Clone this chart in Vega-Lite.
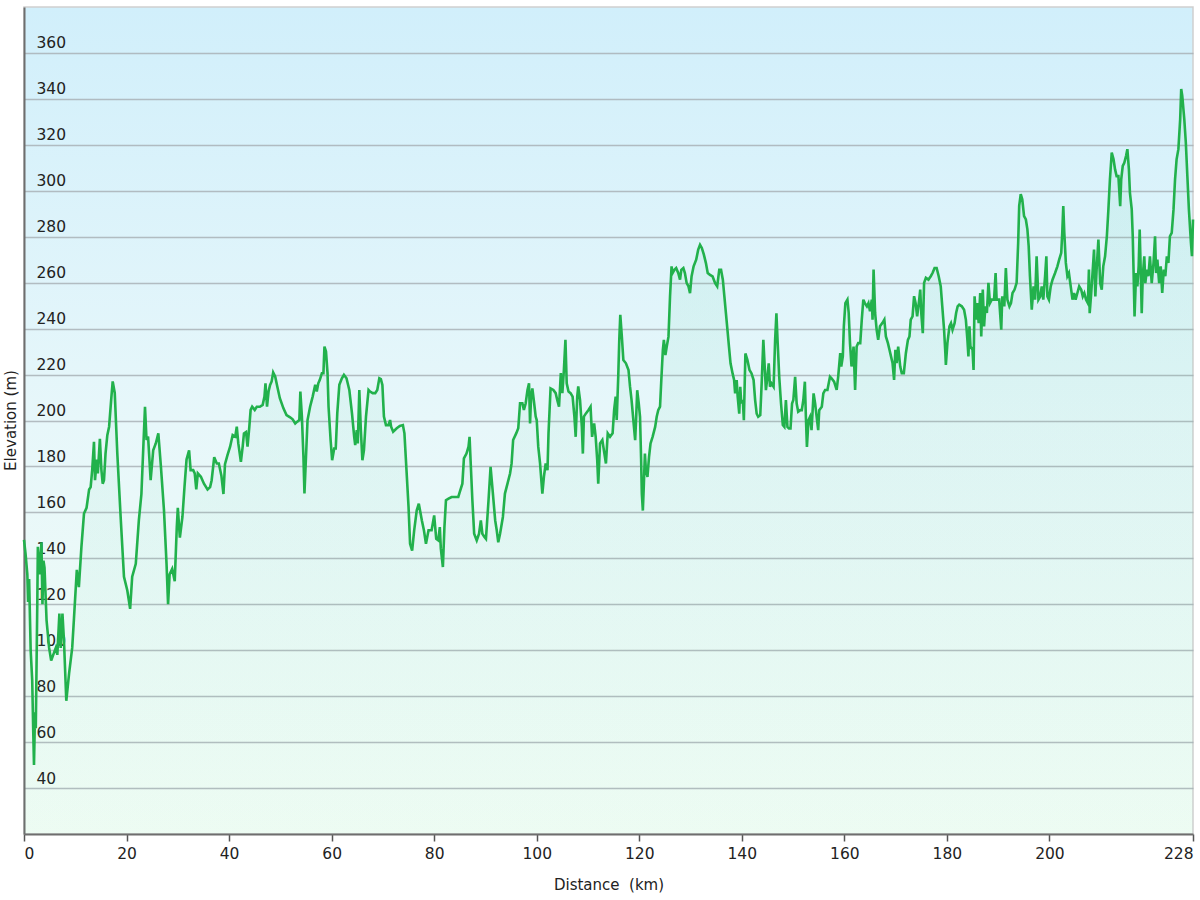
{
"$schema": "https://vega.github.io/schema/vega-lite/v6.json",
"width": 1169,
"height": 827,
"autosize": {"type": "none"},
"padding": {"left": 24, "top": 7, "right": 7, "bottom": 66},
"background": "white",
"config": {
  "view": {"fill": {"gradient": "linear", "x1": 0, "y1": 0, "x2": 0, "y2": 1, "stops": [{"offset": 0, "color": "#d1effb"}, {"offset": 0.5, "color": "#e7f7fa"}, {"offset": 1, "color": "#f1fdf5"}]}, "stroke": "#cfcfcf", "strokeWidth": 1.5},
  "axis": {"labelFont": "DejaVu Sans", "titleFont": "DejaVu Sans", "labelColor": "#222222", "titleColor": "#222222", "labelFontSize": 15.5, "titleFontSize": 15, "titleFontWeight": "normal"}
},
"data": {"values": [
{"km":0,"elev":148},{"km":0.3,"elev":142},{"km":0.65,"elev":133},{"km":0.8,"elev":121},{"km":1.0,"elev":131},{"km":1.3,"elev":100},{"km":1.6,"elev":87},{"km":1.8,"elev":65},{"km":1.95,"elev":50},{"km":2.15,"elev":73},{"km":2.3,"elev":66},{"km":2.6,"elev":122},{"km":2.7,"elev":145},{"km":3.05,"elev":133},{"km":3.4,"elev":147},{"km":3.6,"elev":120},{"km":3.8,"elev":139},{"km":4.0,"elev":136},{"km":4.4,"elev":113},{"km":4.9,"elev":101},{"km":5.3,"elev":95.5},{"km":5.7,"elev":98},{"km":6.2,"elev":101},{"km":6.5,"elev":98},{"km":6.9,"elev":116},{"km":7.15,"elev":101},{"km":7.5,"elev":116},{"km":7.8,"elev":104},{"km":8.25,"elev":78},{"km":8.8,"elev":90},{"km":9.4,"elev":101},{"km":9.75,"elev":114},{"km":10.3,"elev":135},{"km":10.7,"elev":127.5},{"km":11.2,"elev":145},{"km":11.7,"elev":159.5},{"km":12.2,"elev":162},{"km":12.7,"elev":170},{"km":13.0,"elev":171},{"km":13.3,"elev":178.4},{"km":13.65,"elev":190.7},{"km":13.85,"elev":174},{"km":14.2,"elev":183},{"km":14.4,"elev":177},{"km":14.8,"elev":192},{"km":15.1,"elev":178.4},{"km":15.35,"elev":172.5},{"km":15.6,"elev":174},{"km":15.9,"elev":185.6},{"km":16.25,"elev":193.6},{"km":16.6,"elev":197.3},{"km":17.0,"elev":209},{"km":17.3,"elev":217},{"km":17.7,"elev":212},{"km":18.2,"elev":185.6},{"km":18.85,"elev":158},{"km":19.5,"elev":132},{"km":20.15,"elev":126},{"km":20.7,"elev":118},{"km":21.1,"elev":132},{"km":21.8,"elev":137.6},{"km":22.4,"elev":156.5},{"km":22.9,"elev":168},{"km":23.3,"elev":190},{"km":23.6,"elev":206},{"km":23.9,"elev":191.5},{"km":24.2,"elev":193},{"km":24.7,"elev":174},{"km":25.2,"elev":187},{"km":25.7,"elev":190},{"km":26.2,"elev":194.4},{"km":26.7,"elev":180},{"km":27.3,"elev":161},{"km":27.8,"elev":137.6},{"km":28.1,"elev":120},{"km":28.4,"elev":133},{"km":28.9,"elev":135.4},{"km":29.4,"elev":130},{"km":29.8,"elev":153.6},{"km":30.0,"elev":162},{"km":30.4,"elev":149},{"km":30.9,"elev":158},{"km":31.3,"elev":171},{"km":31.7,"elev":183},{"km":32.2,"elev":187},{"km":32.5,"elev":178.4},{"km":33.0,"elev":178.4},{"km":33.3,"elev":177},{"km":33.6,"elev":170},{"km":33.9,"elev":177},{"km":34.5,"elev":175.5},{"km":35.1,"elev":172.5},{"km":35.8,"elev":170},{"km":36.3,"elev":171},{"km":36.6,"elev":174},{"km":37.1,"elev":184},{"km":37.6,"elev":181.3},{"km":38.0,"elev":181.3},{"km":38.5,"elev":176},{"km":38.9,"elev":168},{"km":39.2,"elev":181},{"km":39.7,"elev":185},{"km":40.2,"elev":188.6},{"km":40.7,"elev":193.7},{"km":41.2,"elev":193},{"km":41.5,"elev":197.3},{"km":41.8,"elev":190},{"km":42.3,"elev":182},{"km":42.65,"elev":188.6},{"km":42.9,"elev":194.4},{"km":43.3,"elev":195},{"km":43.6,"elev":188.6},{"km":43.95,"elev":197.3},{"km":44.2,"elev":204.6},{"km":44.5,"elev":206},{"km":45.0,"elev":204.6},{"km":45.4,"elev":206},{"km":46.0,"elev":206},{"km":46.55,"elev":206.8},{"km":46.9,"elev":210.4},{"km":47.1,"elev":216.2},{"km":47.4,"elev":206},{"km":47.7,"elev":212.6},{"km":48.0,"elev":215.5},{"km":48.3,"elev":217},{"km":48.6,"elev":220.9},{"km":49.0,"elev":219.1},{"km":49.4,"elev":214.8},{"km":49.9,"elev":209.7},{"km":50.6,"elev":205.3},{"km":51.2,"elev":202.4},{"km":51.9,"elev":201.4},{"km":52.4,"elev":200.5},{"km":52.9,"elev":198.7},{"km":53.3,"elev":199.5},{"km":53.7,"elev":200.2},{"km":53.9,"elev":212.6},{"km":54.2,"elev":201.7},{"km":54.5,"elev":184.2},{"km":54.7,"elev":168.2},{"km":55.0,"elev":184.2},{"km":55.3,"elev":200.2},{"km":55.8,"elev":206},{"km":56.3,"elev":210.4},{"km":56.8,"elev":215.5},{"km":57.1,"elev":212.6},{"km":57.4,"elev":216.2},{"km":57.7,"elev":217.7},{"km":58.1,"elev":220.6},{"km":58.4,"elev":220.6},{"km":58.6,"elev":232.2},{"km":58.9,"elev":230},{"km":59.2,"elev":220.6},{"km":59.4,"elev":206},{"km":59.8,"elev":191.5},{"km":60.1,"elev":182.7},{"km":60.5,"elev":187.8},{"km":60.8,"elev":187.8},{"km":61.1,"elev":203.1},{"km":61.5,"elev":215.5},{"km":62.0,"elev":218.4},{"km":62.4,"elev":219.9},{"km":62.9,"elev":218.4},{"km":63.45,"elev":213.3},{"km":63.97,"elev":203.1},{"km":64.4,"elev":192.9},{"km":64.6,"elev":189.3},{"km":64.9,"elev":195.8},{"km":65.1,"elev":190},{"km":65.4,"elev":213.3},{"km":65.7,"elev":195.8},{"km":66.0,"elev":182.7},{"km":66.3,"elev":187},{"km":66.7,"elev":201.7},{"km":67.2,"elev":213.3},{"km":67.5,"elev":212.6},{"km":68.0,"elev":211.9},{"km":68.5,"elev":211.9},{"km":68.9,"elev":213.3},{"km":69.3,"elev":218.4},{"km":69.6,"elev":218},{"km":69.9,"elev":215.5},{"km":70.2,"elev":201.7},{"km":70.6,"elev":198},{"km":71.1,"elev":198},{"km":71.4,"elev":200.2},{"km":71.6,"elev":197.3},{"km":72.0,"elev":195.1},{"km":72.7,"elev":196.6},{"km":73.3,"elev":197.6},{"km":73.9,"elev":198},{"km":74.2,"elev":194.4},{"km":74.6,"elev":178.4},{"km":75.0,"elev":162.4},{"km":75.3,"elev":146.3},{"km":75.7,"elev":143.4},{"km":76.1,"elev":152.2},{"km":76.6,"elev":160.9},{"km":77.0,"elev":163.8},{"km":77.6,"elev":156.5},{"km":78.0,"elev":152.2},{"km":78.4,"elev":146.3},{"km":78.9,"elev":152.2},{"km":79.5,"elev":152.2},{"km":80.0,"elev":158.7},{"km":80.4,"elev":148.5},{"km":80.8,"elev":147.8},{"km":81.1,"elev":153.6},{"km":81.3,"elev":144.2},{"km":81.7,"elev":136.2},{"km":82.0,"elev":153.6},{"km":82.3,"elev":165.3},{"km":82.8,"elev":166},{"km":83.4,"elev":166.7},{"km":84.1,"elev":166.7},{"km":84.7,"elev":166.7},{"km":85.0,"elev":168.9},{"km":85.5,"elev":172.5},{"km":85.8,"elev":183.5},{"km":86.3,"elev":185.6},{"km":86.7,"elev":188.6},{"km":86.9,"elev":192.9},{"km":87.1,"elev":182.7},{"km":87.45,"elev":165.3},{"km":87.8,"elev":150.7},{"km":88.3,"elev":147.8},{"km":88.75,"elev":150.7},{"km":89.1,"elev":156.5},{"km":89.4,"elev":150.7},{"km":89.8,"elev":149.3},{"km":90.1,"elev":148.5},{"km":90.6,"elev":165.3},{"km":91.0,"elev":179.8},{"km":91.4,"elev":169.6},{"km":91.9,"elev":156.5},{"km":92.2,"elev":152.2},{"km":92.5,"elev":147},{"km":92.85,"elev":150.7},{"km":93.4,"elev":158},{"km":93.8,"elev":168.2},{"km":94.3,"elev":172.5},{"km":94.8,"elev":176.9},{"km":95.1,"elev":181.3},{"km":95.4,"elev":191.5},{"km":96.0,"elev":194.4},{"km":96.4,"elev":196.6},{"km":96.75,"elev":207.5},{"km":97.2,"elev":207.5},{"km":97.5,"elev":204.6},{"km":97.85,"elev":207.5},{"km":98.2,"elev":213.3},{"km":98.5,"elev":216.2},{"km":98.7,"elev":198.7},{"km":98.9,"elev":210.4},{"km":99.15,"elev":214},{"km":99.5,"elev":207.5},{"km":99.8,"elev":201.7},{"km":100.0,"elev":200.2},{"km":100.3,"elev":188.6},{"km":100.65,"elev":181.3},{"km":101.1,"elev":168.2},{"km":101.4,"elev":175.5},{"km":101.75,"elev":181.3},{"km":102.1,"elev":178.4},{"km":102.3,"elev":194.4},{"km":102.7,"elev":214},{"km":103.25,"elev":213.3},{"km":103.7,"elev":211.9},{"km":104.0,"elev":208.9},{"km":104.35,"elev":206},{"km":104.7,"elev":220.6},{"km":105.0,"elev":211.9},{"km":105.3,"elev":222},{"km":105.6,"elev":235.1},{"km":105.85,"elev":216.2},{"km":106.2,"elev":212.6},{"km":106.6,"elev":211.9},{"km":107.0,"elev":210.4},{"km":107.35,"elev":201.7},{"km":107.6,"elev":192.9},{"km":107.9,"elev":210.4},{"km":108.1,"elev":214.8},{"km":108.45,"elev":208.9},{"km":108.8,"elev":197.3},{"km":109.0,"elev":185.6},{"km":109.2,"elev":201.7},{"km":109.6,"elev":203.1},{"km":110.1,"elev":204.6},{"km":110.5,"elev":206},{"km":110.8,"elev":192.9},{"km":111.2,"elev":198.7},{"km":111.5,"elev":192.9},{"km":111.8,"elev":182.7},{"km":112.0,"elev":172.5},{"km":112.35,"elev":190},{"km":112.8,"elev":191.5},{"km":113.2,"elev":185.6},{"km":113.5,"elev":181.3},{"km":113.85,"elev":194.4},{"km":114.3,"elev":192.9},{"km":114.8,"elev":194.4},{"km":115.1,"elev":204.6},{"km":115.4,"elev":210.4},{"km":115.6,"elev":200.2},{"km":115.9,"elev":219.1},{"km":116.1,"elev":235.1},{"km":116.3,"elev":246},{"km":116.6,"elev":236.6},{"km":116.9,"elev":226.3},{"km":117.4,"elev":224.9},{"km":117.9,"elev":222},{"km":118.2,"elev":214.7},{"km":118.5,"elev":208.9},{"km":118.85,"elev":200.1},{"km":119.2,"elev":191.4},{"km":119.4,"elev":201.6},{"km":119.6,"elev":213.2},{"km":119.9,"elev":207.4},{"km":120.15,"elev":201.6},{"km":120.35,"elev":184.1},{"km":120.5,"elev":168.1},{"km":120.7,"elev":160.8},{"km":120.9,"elev":172.5},{"km":121.1,"elev":185.6},{"km":121.3,"elev":178.3},{"km":121.6,"elev":175.4},{"km":121.9,"elev":184.1},{"km":122.2,"elev":190},{"km":122.6,"elev":192.9},{"km":123.1,"elev":197.2},{"km":123.4,"elev":201.6},{"km":123.7,"elev":204.5},{"km":124.05,"elev":206},{"km":124.3,"elev":217.6},{"km":124.6,"elev":230.7},{"km":124.8,"elev":235.1},{"km":125.1,"elev":228.5},{"km":125.35,"elev":232.1},{"km":125.7,"elev":236.5},{"km":126.0,"elev":254},{"km":126.3,"elev":267.1},{"km":126.5,"elev":264.2},{"km":126.85,"elev":265.6},{"km":127.2,"elev":266.4},{"km":127.6,"elev":264.2},{"km":127.95,"elev":261.3},{"km":128.2,"elev":265.6},{"km":128.6,"elev":266.4},{"km":128.9,"elev":264.2},{"km":129.25,"elev":259.8},{"km":129.6,"elev":258.4},{"km":129.9,"elev":255.4},{"km":130.2,"elev":262.7},{"km":130.6,"elev":267.1},{"km":131.1,"elev":270},{"km":131.5,"elev":274.4},{"km":131.85,"elev":276.5},{"km":132.2,"elev":275.1},{"km":132.6,"elev":272.2},{"km":133.0,"elev":268.5},{"km":133.35,"elev":264.2},{"km":133.8,"elev":263.4},{"km":134.3,"elev":262.7},{"km":134.8,"elev":259.8},{"km":135.2,"elev":258.4},{"km":135.6,"elev":265.6},{"km":135.95,"elev":265.6},{"km":136.3,"elev":261.3},{"km":136.6,"elev":254},{"km":136.9,"elev":246.7},{"km":137.2,"elev":239.4},{"km":137.5,"elev":232.1},{"km":137.8,"elev":224.9},{"km":138.2,"elev":220.5},{"km":138.5,"elev":217.6},{"km":138.7,"elev":211.8},{"km":139.0,"elev":217.6},{"km":139.2,"elev":210.3},{"km":139.5,"elev":203},{"km":139.7,"elev":214.7},{"km":139.9,"elev":207.4},{"km":140.2,"elev":208.9},{"km":140.4,"elev":200.1},{"km":140.7,"elev":229.2},{"km":141.1,"elev":226.3},{"km":141.5,"elev":222},{"km":141.9,"elev":220.5},{"km":142.3,"elev":217.6},{"km":142.6,"elev":208.9},{"km":142.9,"elev":203},{"km":143.2,"elev":201.6},{"km":143.6,"elev":202.3},{"km":143.9,"elev":217.6},{"km":144.2,"elev":235.1},{"km":144.5,"elev":222},{"km":144.7,"elev":213.2},{"km":145.0,"elev":219},{"km":145.25,"elev":224.9},{"km":145.5,"elev":214.7},{"km":145.8,"elev":216.1},{"km":146.2,"elev":214.7},{"km":146.5,"elev":235.1},{"km":146.75,"elev":246.7},{"km":147.0,"elev":233.6},{"km":147.3,"elev":219},{"km":147.65,"elev":207.4},{"km":148.0,"elev":198},{"km":148.3,"elev":197.2},{"km":148.6,"elev":208.9},{"km":148.9,"elev":197.2},{"km":149.2,"elev":196.5},{"km":149.5,"elev":196.5},{"km":149.8,"elev":207.4},{"km":150.05,"elev":208.9},{"km":150.4,"elev":219},{"km":150.7,"elev":207.4},{"km":151.0,"elev":203.8},{"km":151.4,"elev":204.5},{"km":151.7,"elev":204.5},{"km":152.0,"elev":208.9},{"km":152.3,"elev":216.9},{"km":152.5,"elev":201.6},{"km":152.7,"elev":188.5},{"km":153.0,"elev":200.1},{"km":153.3,"elev":201.6},{"km":153.6,"elev":195.8},{"km":154.0,"elev":211.8},{"km":154.3,"elev":207.4},{"km":154.6,"elev":201.6},{"km":154.9,"elev":195.8},{"km":155.1,"elev":204.5},{"km":155.6,"elev":206},{"km":155.9,"elev":211.8},{"km":156.25,"elev":213.3},{"km":156.7,"elev":213.3},{"km":157.2,"elev":219.1},{"km":157.5,"elev":218.4},{"km":158.0,"elev":216.9},{"km":158.5,"elev":213.3},{"km":158.8,"elev":219.1},{"km":159.2,"elev":229.3},{"km":159.4,"elev":223.5},{"km":159.7,"elev":227.9},{"km":159.9,"elev":241},{"km":160.2,"elev":251.1},{"km":160.6,"elev":252.6},{"km":160.85,"elev":246.8},{"km":161.1,"elev":233.7},{"km":161.4,"elev":223.5},{"km":161.8,"elev":232.2},{"km":162.1,"elev":213.3},{"km":162.4,"elev":232.2},{"km":162.7,"elev":233.7},{"km":163.1,"elev":233.7},{"km":163.4,"elev":243.9},{"km":163.7,"elev":252.6},{"km":164.0,"elev":251.1},{"km":164.4,"elev":249.7},{"km":164.7,"elev":251.1},{"km":165.0,"elev":247.5},{"km":165.35,"elev":252.6},{"km":165.5,"elev":243.9},{"km":165.7,"elev":265.7},{"km":166.0,"elev":246.8},{"km":166.3,"elev":239.5},{"km":166.6,"elev":235.1},{"km":166.95,"elev":241},{"km":167.4,"elev":242.4},{"km":167.8,"elev":243.9},{"km":168.1,"elev":236.6},{"km":168.5,"elev":233.7},{"km":168.8,"elev":230.8},{"km":169.1,"elev":227.9},{"km":169.4,"elev":225},{"km":169.7,"elev":217.7},{"km":169.95,"elev":230.8},{"km":170.2,"elev":225},{"km":170.5,"elev":232.2},{"km":170.9,"elev":223.5},{"km":171.2,"elev":220.6},{"km":171.6,"elev":220.6},{"km":172.0,"elev":229.3},{"km":172.4,"elev":235.1},{"km":172.7,"elev":236.6},{"km":172.95,"elev":243.9},{"km":173.3,"elev":245.3},{"km":173.6,"elev":254.1},{"km":173.9,"elev":251.1},{"km":174.2,"elev":245.3},{"km":174.6,"elev":252.6},{"km":174.8,"elev":257},{"km":175.0,"elev":246.8},{"km":175.3,"elev":238},{"km":175.55,"elev":259.9},{"km":175.9,"elev":262.1},{"km":176.4,"elev":261.3},{"km":176.85,"elev":262.8},{"km":177.2,"elev":264.2},{"km":177.6,"elev":266.4},{"km":178.0,"elev":266.4},{"km":178.4,"elev":262.8},{"km":178.8,"elev":258.4},{"km":179.1,"elev":249.7},{"km":179.45,"elev":239.5},{"km":179.7,"elev":229.3},{"km":179.8,"elev":224.2},{"km":180.1,"elev":233.7},{"km":180.5,"elev":241},{"km":180.8,"elev":242.4},{"km":181.1,"elev":239.5},{"km":181.5,"elev":242.4},{"km":181.8,"elev":246.8},{"km":182.1,"elev":249.7},{"km":182.4,"elev":250.4},{"km":182.9,"elev":249.7},{"km":183.35,"elev":248.2},{"km":183.7,"elev":243.9},{"km":184.0,"elev":235.1},{"km":184.2,"elev":227.9},{"km":184.4,"elev":241},{"km":184.6,"elev":232.2},{"km":185.0,"elev":230.8},{"km":185.2,"elev":222},{"km":185.4,"elev":254.1},{"km":185.7,"elev":243.9},{"km":185.9,"elev":251.1},{"km":186.2,"elev":242.4},{"km":186.5,"elev":255.5},{"km":186.7,"elev":236.6},{"km":187.0,"elev":257},{"km":187.25,"elev":241},{"km":187.5,"elev":249.7},{"km":187.8,"elev":246.8},{"km":188.1,"elev":259.9},{"km":188.4,"elev":251.1},{"km":188.75,"elev":252.6},{"km":189.2,"elev":252.6},{"km":189.5,"elev":264.2},{"km":189.7,"elev":252.6},{"km":190.2,"elev":252.6},{"km":190.6,"elev":239.5},{"km":190.8,"elev":254.1},{"km":191.2,"elev":249.7},{"km":191.5,"elev":266.4},{"km":191.8,"elev":252.6},{"km":192.2,"elev":249.7},{"km":192.5,"elev":251.1},{"km":192.8,"elev":255.5},{"km":193.2,"elev":257},{"km":193.6,"elev":259.9},{"km":193.9,"elev":277.3},{"km":194.1,"elev":293.4},{"km":194.4,"elev":298.5},{"km":194.7,"elev":296.3},{"km":195.05,"elev":289},{"km":195.4,"elev":287.5},{"km":195.7,"elev":283.2},{"km":195.95,"elev":275.9},{"km":196.2,"elev":262.8},{"km":196.55,"elev":248.2},{"km":196.9,"elev":258.4},{"km":197.2,"elev":252.6},{"km":197.5,"elev":271.5},{"km":197.85,"elev":252.6},{"km":198.2,"elev":254},{"km":198.5,"elev":258.4},{"km":198.8,"elev":252.6},{"km":199.15,"elev":262.8},{"km":199.4,"elev":271.5},{"km":199.6,"elev":254},{"km":199.9,"elev":252.6},{"km":200.25,"elev":258.4},{"km":200.6,"elev":261.3},{"km":201.1,"elev":264.2},{"km":201.55,"elev":267.1},{"km":201.9,"elev":270},{"km":202.3,"elev":273},{"km":202.5,"elev":281.7},{"km":202.7,"elev":293.3},{"km":202.9,"elev":281.7},{"km":203.2,"elev":268.6},{"km":203.5,"elev":262.8},{"km":203.8,"elev":264.2},{"km":204.15,"elev":258.4},{"km":204.5,"elev":252.6},{"km":204.8,"elev":255.5},{"km":205.1,"elev":252.6},{"km":205.45,"elev":255.5},{"km":205.8,"elev":258.4},{"km":206.2,"elev":256.9},{"km":206.5,"elev":254},{"km":206.8,"elev":255.5},{"km":207.15,"elev":252.6},{"km":207.5,"elev":251.1},{"km":207.7,"elev":265.7},{"km":207.85,"elev":246.7},{"km":208.1,"elev":254},{"km":208.45,"elev":265.7},{"km":208.7,"elev":274.4},{"km":208.95,"elev":254},{"km":209.2,"elev":265.7},{"km":209.55,"elev":278.8},{"km":209.9,"elev":259.8},{"km":210.2,"elev":256.9},{"km":210.5,"elev":267.1},{"km":210.85,"elev":271.5},{"km":211.2,"elev":280.2},{"km":211.5,"elev":291.9},{"km":211.8,"elev":305},{"km":212.15,"elev":316.6},{"km":212.5,"elev":313.7},{"km":212.8,"elev":309.3},{"km":213.1,"elev":306.4},{"km":213.45,"elev":306.4},{"km":213.8,"elev":293.3},{"km":214.0,"elev":305},{"km":214.3,"elev":310.8},{"km":214.6,"elev":312.2},{"km":214.95,"elev":315.2},{"km":215.2,"elev":318.1},{"km":215.5,"elev":309.3},{"km":215.7,"elev":299.1},{"km":216.05,"elev":291.9},{"km":216.25,"elev":280.2},{"km":216.4,"elev":265.7},{"km":216.6,"elev":245.3},{"km":216.9,"elev":264.2},{"km":217.15,"elev":258.4},{"km":217.4,"elev":267.1},{"km":217.6,"elev":283.1},{"km":217.8,"elev":265.7},{"km":218.0,"elev":246.7},{"km":218.2,"elev":262.8},{"km":218.5,"elev":271.5},{"km":218.7,"elev":259.8},{"km":219.0,"elev":265.7},{"km":219.3,"elev":262.8},{"km":219.6,"elev":271.5},{"km":219.95,"elev":259.8},{"km":220.3,"elev":268.6},{"km":220.6,"elev":280.2},{"km":220.8,"elev":264.2},{"km":221.05,"elev":270},{"km":221.4,"elev":259.8},{"km":221.7,"elev":267.1},{"km":222.0,"elev":255.5},{"km":222.3,"elev":265.7},{"km":222.6,"elev":262.8},{"km":222.9,"elev":271.5},{"km":223.2,"elev":268.6},{"km":223.5,"elev":280.2},{"km":223.85,"elev":281.7},{"km":224.2,"elev":291.9},{"km":224.5,"elev":305},{"km":224.8,"elev":313.7},{"km":225.15,"elev":318.1},{"km":225.5,"elev":331.2},{"km":225.7,"elev":344.3},{"km":225.9,"elev":341.4},{"km":226.3,"elev":331.2},{"km":226.6,"elev":321},{"km":226.9,"elev":306.4},{"km":227.2,"elev":291.9},{"km":227.6,"elev":277.3},{"km":227.8,"elev":271.5},{"km":228.0,"elev":287.5}
]},
"encoding": {
  "x": {"field": "km", "type": "quantitative", "scale": {"domain": [0, 228], "nice": false, "zero": false},
    "axis": {"values": [0, 20, 40, 60, 80, 100, 120, 140, 160, 180, 200, 228], "grid": false, "title": "Distance\u00a0 (km)", "domainColor": "#6e6e6e", "domainWidth": 2, "tickColor": "#555555", "tickSize": 7, "tickWidth": 1.5, "labelPadding": 5, "labelFlush": true, "titleY": 50, "titleBaseline": "middle"}},
  "y": {"field": "elev", "type": "quantitative", "scale": {"domain": [20, 380], "nice": false, "zero": false},
    "axis": {"values": [40, 60, 80, 100, 120, 140, 160, 180, 200, 220, 240, 260, 280, 300, 320, 340, 360], "grid": true, "gridColor": "#a9b2b6", "gridOpacity": 0.85, "gridWidth": 1.5, "ticks": false, "tickSize": 0, "labelAlign": "left", "labelPadding": -12, "labelBaseline": "alphabetic", "labelOffset": -5, "domainColor": "#6e6e6e", "domainWidth": 2, "title": "Elevation (m)", "titleX": -14, "titleY": 413, "titleAngle": -90, "titleAlign": "center", "titleBaseline": "middle"}}
},
"layer": [
  {"mark": {"type": "area", "color": {"gradient": "linear", "x1": 0, "y1": 0, "x2": 0, "y2": 1, "stops": [{"offset": 0, "color": "rgba(60,200,140,0.09)"}, {"offset": 1, "color": "rgba(60,200,140,0.025)"}]}},
   "encoding": {"y2": {"datum": 20}}},
  {"mark": {"type": "line", "color": "#22b14c", "strokeWidth": 2.6}}
]
}
